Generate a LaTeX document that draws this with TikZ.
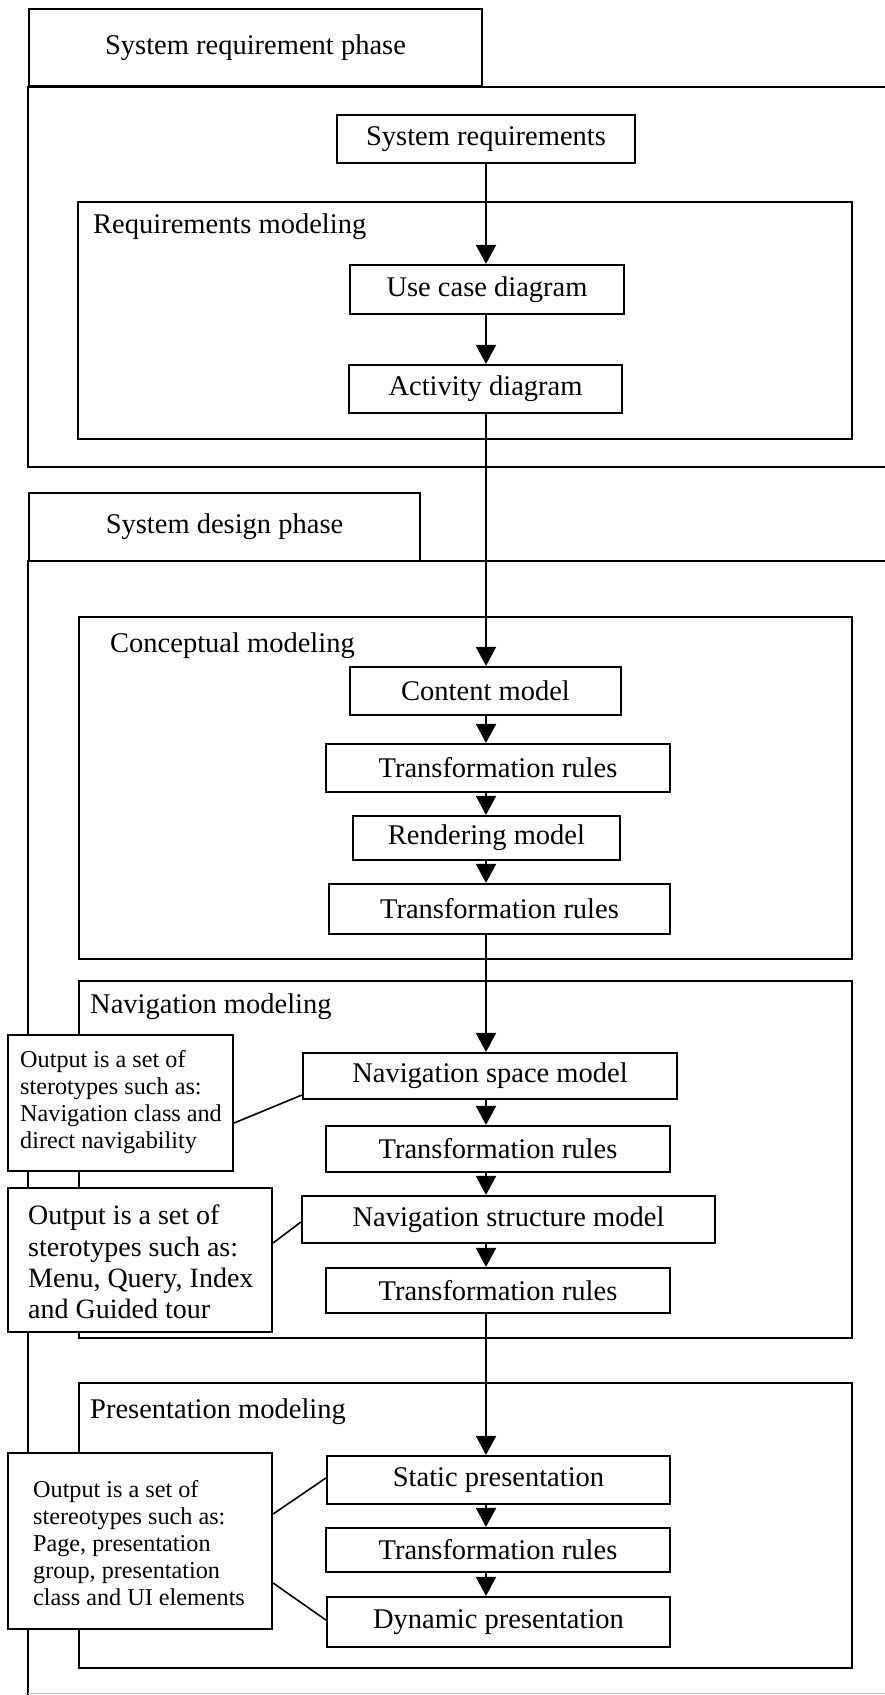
\documentclass[tikz,border=0pt]{standalone}
\usepackage{fontspec}
\setmainfont{Liberation Serif}
\usetikzlibrary{arrows.meta,calc}
\newcommand\mainfs{\fontsize{28.5}{32}\selectfont}
\newcommand\notefs{\fontsize{24.2}{27}\selectfont}
\newcommand\notebigfs{\fontsize{28}{31.2}\selectfont}
\tikzset{
  box/.style={draw=black, line width=2.2pt, fill=white, inner sep=0pt, font=\mainfs},
  group/.style={draw=black, line width=2.2pt, inner sep=0pt},
  frameline/.style={draw=black, line width=2.5pt},
  grouplabel/.style={anchor=base west, inner sep=0pt, font=\mainfs},
  notebox/.style={draw=black, line width=2.2pt, fill=white, inner sep=0pt},
  notetext/.style={anchor=west, align=left, inner sep=0pt},
  flow/.style={draw=black, line width=2pt, -{Triangle[width=20pt,length=19pt]}},
  link/.style={draw=black, line width=1.6pt}
}
\begin{document}
\begin{tikzpicture}[x=1pt,y=-1pt]
\useasboundingbox[fill=white] (0,0) rectangle (885,1695);
\coordinate (ax) at (486,0);

% ---- phase 1 frame
\draw[frameline] (885,87) -- (28,87) -- (28,467) -- (885,467);
\node[box, minimum width=453pt, minimum height=77pt] (tab1) at (255.5,47.5) {System requirement phase};

% ---- phase 2 frame
\draw[frameline] (885,561) -- (28,561) -- (28,1695);
\draw[draw=black!25, line width=1pt] (28,1693.5) -- (885,1693.5);
\node[box, minimum width=391pt, minimum height=68pt] (tab2) at (224.5,527) {System design phase};

% ---- groups
\node[group, minimum width=774pt, minimum height=237pt] (reqm) at (465,320.5) {};
\node[grouplabel] (reqml) at (93,233) {Requirements modeling};
\node[group, minimum width=773pt, minimum height=342pt] (conm) at (465.5,788) {};
\node[grouplabel] (conml) at (110,652) {Conceptual modeling};
\node[group, minimum width=773pt, minimum height=357pt] (navm) at (465.5,1159.5) {};
\node[grouplabel] (navml) at (90,1013) {Navigation modeling};
\node[group, minimum width=773pt, minimum height=285pt] (prem) at (465.5,1525.5) {};
\node[grouplabel] (preml) at (90,1418) {Presentation modeling};

% ---- flow boxes
\node[box, minimum width=298pt, minimum height=48pt] (sysreq) at (486,139) {System requirements};
\node[box, minimum width=274pt, minimum height=49pt] (usecase) at (487,289.5) {Use case diagram};
\node[box, minimum width=273pt, minimum height=48pt] (activity) at (485.5,389) {Activity diagram};

\node[box, minimum width=271pt, minimum height=48pt] (content) at (485.5,691) {Content model};
\node[box, minimum width=344pt, minimum height=48pt] (tr1) at (498,768) {Transformation rules};
\node[box, minimum width=267pt, minimum height=44pt] (render) at (486.5,838) {Rendering model};
\node[box, minimum width=341pt, minimum height=50pt] (tr2) at (499.5,909) {Transformation rules};

\node[box, minimum width=374pt, minimum height=46pt] (navspace) at (490,1076) {Navigation space model};
\node[box, minimum width=344pt, minimum height=46pt] (tr3) at (498,1149) {Transformation rules};
\node[box, minimum width=413pt, minimum height=47pt] (navstruct) at (508.5,1219.5) {Navigation structure model};
\node[box, minimum width=344pt, minimum height=45pt] (tr4) at (498,1290.5) {Transformation rules};

\node[box, minimum width=343pt, minimum height=48pt] (static) at (498.5,1480) {Static presentation};
\node[box, minimum width=344pt, minimum height=44pt] (tr5) at (498,1550) {Transformation rules};
\node[box, minimum width=343pt, minimum height=50pt] (dynamic) at (498.5,1622) {Dynamic presentation};

% ---- notes
\node[notebox, minimum width=225pt, minimum height=136pt] (n1) at (120.5,1103) {};
\node[notetext, font=\notefs] (n1t) at (20,1102) {Output is a set of\\sterotypes such as:\\Navigation class and\\direct navigability};
\node[notebox, minimum width=264pt, minimum height=144pt] (n2) at (140,1260) {};
\node[notetext, font=\notebigfs] (n2t) at (28,1262) {Output is a set of\\sterotypes such as:\\Menu, Query, Index\\and Guided tour};
\node[notebox, minimum width=264pt, minimum height=176pt] (n3) at (140,1541) {};
\node[notetext, font=\notefs] (n3t) at (33,1543) {Output is a set of\\stereotypes such as:\\Page, presentation\\group, presentation\\class and UI elements};

% ---- note links
\draw[link] ([yshift=-20pt]n1.east) -- ([yshift=-19pt]navspace.west);
\draw[link] ([yshift=17pt]n2.east) -- ([yshift=-2.5pt]navstruct.west);
\draw[link] ([yshift=27pt]n3.east) -- ([yshift=2pt]static.west);
\draw[link] ([yshift=-42pt]n3.east) -- ([yshift=2pt]dynamic.west);

% ---- flow arrows
\draw[flow] (sysreq.south -| ax) -- (usecase.north -| ax);
\draw[flow] (usecase.south -| ax) -- (activity.north -| ax);
\draw[flow] (activity.south -| ax) -- (content.north -| ax);
\draw[flow] (content.south -| ax) -- (tr1.north -| ax);
\draw[flow] (tr1.south -| ax) -- (render.north -| ax);
\draw[flow] (render.south -| ax) -- (tr2.north -| ax);
\draw[flow] (tr2.south -| ax) -- (navspace.north -| ax);
\draw[flow] (navspace.south -| ax) -- (tr3.north -| ax);
\draw[flow] (tr3.south -| ax) -- (navstruct.north -| ax);
\draw[flow] (navstruct.south -| ax) -- (tr4.north -| ax);
\draw[flow] (tr4.south -| ax) -- (static.north -| ax);
\draw[flow] (static.south -| ax) -- (tr5.north -| ax);
\draw[flow] (tr5.south -| ax) -- (dynamic.north -| ax);
\end{tikzpicture}
\end{document}
